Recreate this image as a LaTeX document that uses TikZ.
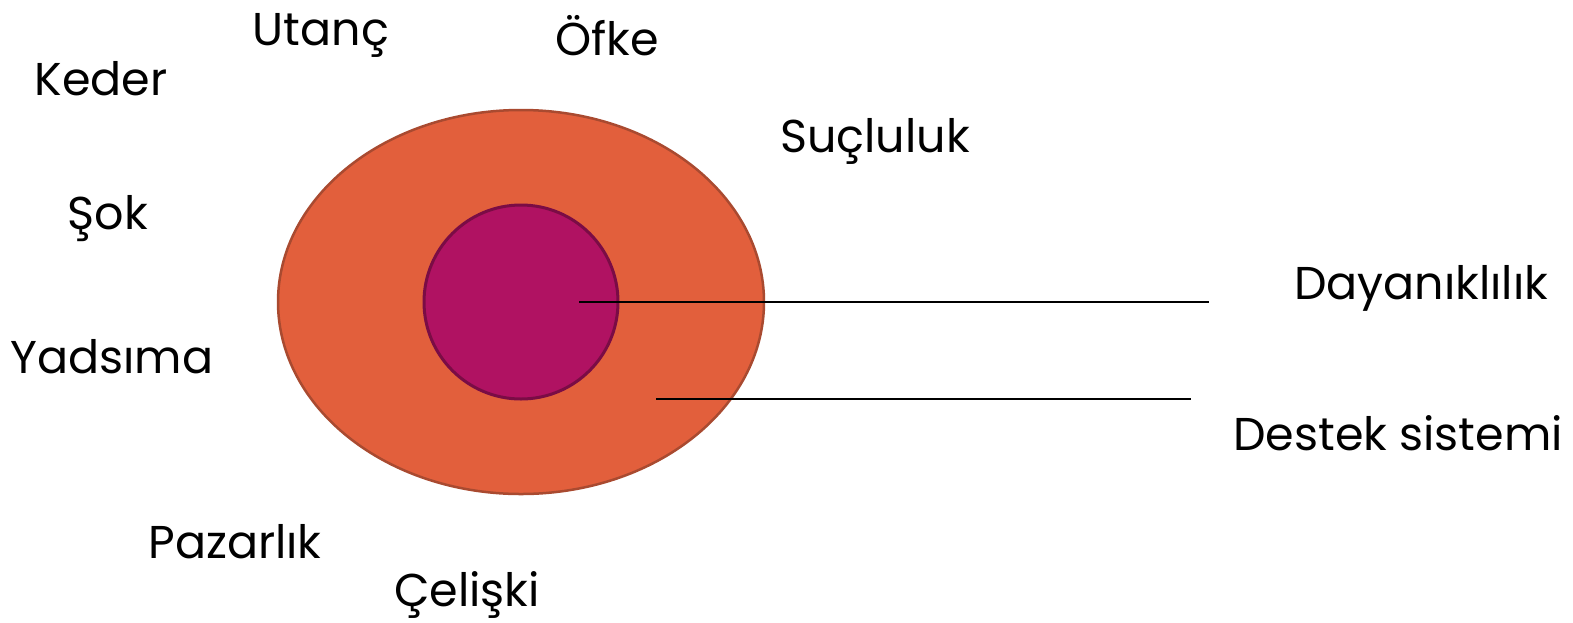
\documentclass[tikz,border=0pt]{standalone}
\usepackage{fontspec}
\setmainfont{Poppins}
\definecolor{outerfill}{HTML}{E25F3C}
\definecolor{outerline}{HTML}{A94A30}
\definecolor{innerfill}{HTML}{B01262}
\definecolor{innerline}{HTML}{7A0C45}
\begin{document}
\begin{tikzpicture}[x=1pt,y=-1pt,
  lbl/.style={anchor=base,inner sep=0pt,font=\fontsize{46}{50}\selectfont},
  conn/.style={draw=black,line width=1.3pt}]
\useasboundingbox (0,0) rectangle (1573,622);
\fill[outerfill,draw=outerline,line width=2.5pt] (521,302) ellipse [x radius=243, y radius=192];
\node[circle,minimum size=194pt,inner sep=0pt,fill=innerfill,draw=innerline,line width=3pt] (inner) at (521,302) {};
\coordinate (a1) at (579,302);
\coordinate (a2) at (1209,302);
\coordinate (b1) at (656,399);
\coordinate (b2) at (1191,399);
\draw[conn] (a1) -- (a2);
\draw[conn] (b1) -- (b2);
\node[lbl] (utanc) at (321,45) {Utanç};
\node[lbl] (ofke) at (607,55) {Öfke};
\node[lbl] (keder) at (101,95) {Keder};
\node[lbl] (sok) at (108,229) {Şok};
\node[lbl] (sucluluk) at (875,152) {Suçluluk};
\node[lbl] (dayan) at (1421,299) {Dayanıklılık};
\node[lbl] (yadsima) at (112,373) {Yadsıma};
\node[lbl] (destek) at (1398,450) {Destek sistemi};
\node[lbl] (pazarlik) at (235,558) {Pazarlık};
\node[lbl] (celiski) at (467,606) {Çelişki};
\end{tikzpicture}
\end{document}
